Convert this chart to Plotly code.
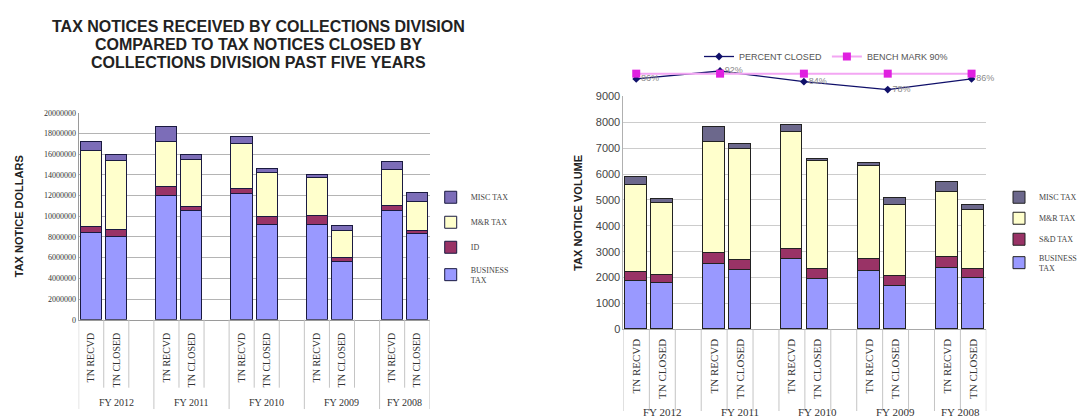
import plotly.graph_objects as go

W, H = 1082, 417

# ---------------- data ----------------
years = ["FY 2012", "FY 2011", "FY 2010", "FY 2009", "FY 2008"]
bar_labels = ["TN RECVD", "TN CLOSED"]

# Tax notice dollars, ordered FY2012 RECVD, FY2012 CLOSED, FY2011 RECVD, ...
dollars_business = [8400000, 8050000, 12000000, 10500000, 12200000, 9200000, 9200000, 5550000, 10500000, 8300000]
dollars_id = [600000, 650000, 800000, 400000, 450000, 700000, 850000, 400000, 500000, 300000]
dollars_mr = [7300000, 6700000, 4400000, 4600000, 4350000, 4300000, 3700000, 2650000, 3500000, 2800000]
dollars_misc = [900000, 500000, 1450000, 400000, 700000, 400000, 250000, 500000, 800000, 900000]

# Tax notice volume, same ordering
volume_business = [1860, 1770, 2500, 2290, 2710, 1940, 2260, 1670, 2360, 1960]
volume_sd = [350, 310, 440, 380, 400, 380, 450, 380, 440, 370]
volume_mr = [3340, 2800, 4300, 4300, 4510, 4170, 3600, 2760, 2500, 2250]
volume_misc = [340, 130, 560, 190, 250, 90, 120, 250, 380, 220]

percent_closed = [86, 92, 84, 78, 86]
bench_mark = [90, 90, 90, 90, 90]

title_lines = [
    "TAX NOTICES RECEIVED BY COLLECTIONS DIVISION",
    "COMPARED TO TAX NOTICES CLOSED BY",
    "COLLECTIONS DIVISION PAST FIVE YEARS",
]

# ---------------- helpers ----------------
def px_x(x):
    return x / W


def px_y(y):
    return 1 - y / H


# slot positions: each year takes three slots (received, closed, spacer)
positions = [3 * i + j for i in range(len(years)) for j in range(len(bar_labels))]
tick_text = [bar_labels[j] for i in range(len(years)) for j in range(len(bar_labels))]
n_slots = 3 * len(years) - 1

BLUE = "#9999FF"
MAROON = "#993366"
CREAM = "#FFFFCC"
MISC_L = "#7C6DB8"
MISC_R = "#6C688C"

SERIF = "Liberation Serif, Times New Roman, serif"
SANS = "Liberation Sans, Arial, sans-serif"

fig = go.Figure()

left_series = [
    ("BUSINESS<br>TAX", dollars_business, BLUE),
    ("ID", dollars_id, MAROON),
    ("M&R TAX", dollars_mr, CREAM),
    ("MISC TAX", dollars_misc, MISC_L),
]
for k, (name, vals, col) in enumerate(left_series):
    fig.add_trace(go.Bar(
        x=positions, y=vals, name=name, xaxis="x", yaxis="y",
        marker=dict(color=col, line=dict(color="#1a1a40", width=1)),
        width=0.84, legend="legend", legendgroup="l%d" % k,
        legendrank=len(left_series) - k,
        hovertemplate=name.replace("<br>", " ") + ": %{y}<extra></extra>",
    ))

right_series = [
    ("BUSINESS<br>TAX", volume_business, BLUE),
    ("S&D TAX", volume_sd, MAROON),
    ("M&R TAX", volume_mr, CREAM),
    ("MISC TAX", volume_misc, MISC_R),
]
for k, (name, vals, col) in enumerate(right_series):
    fig.add_trace(go.Bar(
        x=positions, y=vals, name=name, xaxis="x2", yaxis="y2",
        marker=dict(color=col, line=dict(color="#222222", width=1)),
        width=0.84, legend="legend2", legendgroup="r%d" % k,
        legendrank=len(right_series) - k,
        hovertemplate=name.replace("<br>", " ") + ": %{y}<extra></extra>",
    ))

# percent closed vs. benchmark lines above the volume chart
fig.add_trace(go.Scatter(
    x=years, y=percent_closed, name="PERCENT CLOSED", xaxis="x3", yaxis="y3",
    mode="lines+markers+text", text=["%d%%" % v for v in percent_closed],
    textposition="middle right", textfont=dict(family=SANS, size=9, color="#8a8a8a"),
    line=dict(color="#10106a", width=1.3),
    marker=dict(symbol="diamond", size=6, color="#10106a"),
    cliponaxis=False, legend="legend3",
))
fig.add_trace(go.Scatter(
    x=years, y=bench_mark, name="BENCH MARK 90%", xaxis="x3", yaxis="y3",
    mode="lines+markers", line=dict(color="#F3A6F3", width=2),
    marker=dict(symbol="square", size=8, color="#E020E0"),
    cliponaxis=False, legend="legend3",
))

# ---------------- axes ----------------
L_X0, L_X1, L_Y0, L_Y1 = 80, 437, 323, 110
R_X0, R_X1, R_Y0, R_Y1 = 634, 1003, 333, 93

common_x = dict(
    tickmode="array", tickvals=positions, ticktext=tick_text, tickangle=-90,
    range=[-0.5, n_slots - 0.5], showgrid=False, zeroline=False,
    showline=True, ticks="", fixedrange=True,
)
fig.update_layout(
    xaxis=dict(domain=[px_x(L_X0), px_x(L_X1)], anchor="y", linecolor="#9a9a9a",
               ticklabelstandoff=8,
               tickfont=dict(family=SERIF, size=10, color="#333333"), **common_x),
    yaxis=dict(domain=[px_y(L_Y0), px_y(L_Y1)], anchor="x", range=[0, 20000000],
               dtick=2000000, tickformat="d", showgrid=True, gridcolor="#b4b4b4",
               showline=True, linecolor="#9a9a9a", zeroline=False, ticks="",
               tickfont=dict(family=SERIF, size=8, color="#333333"),
               title=dict(text="<b>TAX NOTICE DOLLARS</b>", standoff=18,
                          font=dict(family=SANS, size=11, color="#222222"))),
    xaxis2=dict(domain=[px_x(R_X0), px_x(R_X1)], anchor="y2", linecolor="#a8a8a8",
                ticklabelstandoff=4,
                tickfont=dict(family=SERIF, size=11, color="#333333"), **common_x),
    yaxis2=dict(domain=[px_y(R_Y0), px_y(R_Y1)], anchor="x2", range=[0, 9000],
                dtick=1000, tickformat="d", showgrid=True, gridcolor="#cccccc",
                showline=True, linecolor="#b0b0b0", zeroline=False, ticks="",
                tickfont=dict(family=SANS, size=11, color="#444444"),
                title=dict(text="<b>TAX NOTICE VOLUME</b>", standoff=10,
                           font=dict(family=SANS, size=11, color="#222222"))),
    xaxis3=dict(domain=[px_x(647), px_x(988)], anchor="y3", type="category",
                range=[0, len(years) - 1], visible=False, fixedrange=True),
    yaxis3=dict(domain=[px_y(97), px_y(56)], anchor="x3", range=[70, 100],
                visible=False, fixedrange=True),
)

# ---------------- category dividers and year labels ----------------
shapes = []
annotations = []
group_edges = [3 * i - 0.5 for i in range(len(years))] + [n_slots - 0.5]


def add_dividers(xref, y_axis, y_short, y_long):
    for k in range(n_slots + 1):
        edge = k - 0.5
        y_end = y_long if edge in group_edges else y_short
        shapes.append(dict(type="line", xref=xref, yref="paper", x0=edge, x1=edge,
                           y0=px_y(y_axis), y1=px_y(y_end),
                           line=dict(color="#c4c4c4", width=1)))


add_dividers("x", L_Y0, 393, 415)
add_dividers("x2", R_Y0, 417, 417)

for i, yr in enumerate(years):
    start = 3 * i - 0.5
    end = min(3 * i + 2.5, n_slots - 0.5)
    center = (start + end) / 2
    annotations.append(dict(xref="x", yref="paper", x=center, y=px_y(408),
                            text=yr, showarrow=False, yanchor="middle",
                            font=dict(family=SERIF, size=10, color="#333333")))
    annotations.append(dict(xref="x2", yref="paper", x=center, y=px_y(410),
                            text=yr, showarrow=False, yanchor="top",
                            font=dict(family=SERIF, size=11, color="#333333")))

# chart heading, one line per annotation for even spacing
for i, line in enumerate(title_lines):
    annotations.append(dict(xref="paper", yref="paper", x=px_x(263), y=px_y(21 + 18.7 * i),
                            text="<b>%s</b>" % line, showarrow=False,
                            xanchor="center", yanchor="middle",
                            font=dict(family=SANS, size=16, color="#222222")))

fig.update_layout(
    shapes=shapes,
    annotations=annotations,
    barmode="stack",
    bargap=0,
    width=W, height=H,
    margin=dict(l=0, r=0, t=0, b=0),
    paper_bgcolor="white", plot_bgcolor="white",
    legend=dict(x=px_x(438), y=px_y(182), xanchor="left", yanchor="top",
                traceorder="grouped", tracegroupgap=6,
                font=dict(family=SERIF, size=8, color="#444444"),
                bgcolor="rgba(0,0,0,0)", itemwidth=30),
    legend2=dict(x=px_x(1016), y=px_y(182), xanchor="left", yanchor="top",
                 traceorder="grouped", tracegroupgap=2,
                 font=dict(family=SERIF, size=8, color="#444444"),
                 bgcolor="rgba(0,0,0,0)", itemwidth=30),
    legend3=dict(x=px_x(840), y=px_y(52), xanchor="center", yanchor="middle",
                 orientation="h",
                 font=dict(family=SANS, size=9, color="#555555"),
                 bgcolor="rgba(0,0,0,0)"),
    showlegend=True,
)

fig.write_html("out.html")
